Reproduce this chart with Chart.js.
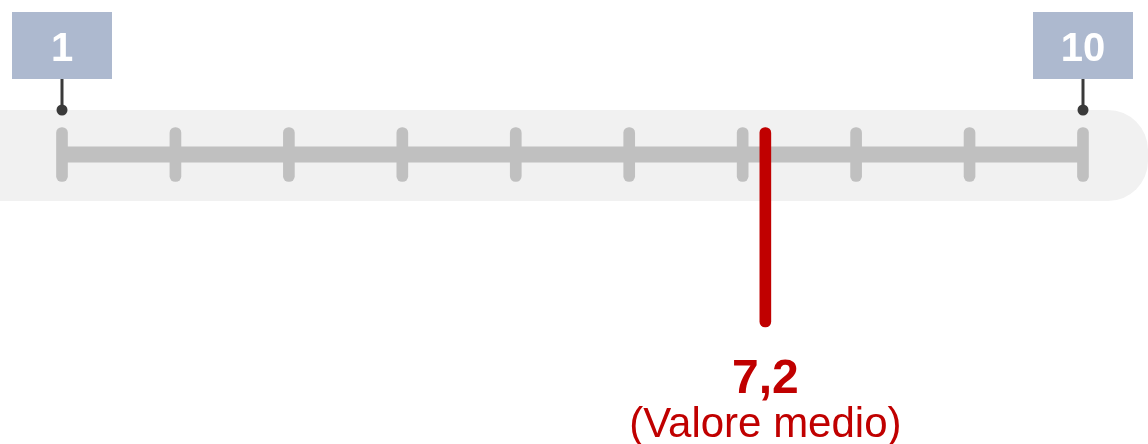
<!DOCTYPE html>
<html>
<head>
<meta charset="utf-8">
<script src="https://cdn.jsdelivr.net/npm/chart.js@4.4.1/dist/chart.umd.min.js"></script>
<style>
  html, body { margin: 0; padding: 0; background: #ffffff; }
  #wrap { width: 1148px; height: 444px; }
</style>
</head>
<body>
<div id="wrap"><canvas id="c" width="1148" height="444"></canvas></div>
<script>
// ---- data ----
const scaleTicks = [1, 2, 3, 4, 5, 6, 7, 8, 9, 10];
const scaleMin = 1;
const scaleMax = 10;
const meanValue = 7.2;
const meanLabel = "7,2";
const meanCaption = "(Valore medio)";
const endLabels = ["1", "10"];

// ---- style constants ----
const FONT = "'Liberation Sans', Arial, sans-serif";
const GREY = "#c0c0c0";
const RED = "#c00000";
const BAND = "#f1f1f1";
const BOX = "#adb9cf";

const bandPlugin = {
  id: 'band',
  beforeDatasetsDraw(chart) {
    const ctx = chart.ctx;
    const top = 110, bottom = 201, right = 1148, r = 40;
    ctx.save();
    ctx.fillStyle = BAND;
    ctx.beginPath();
    ctx.moveTo(0, top);
    ctx.lineTo(right - r, top);
    ctx.arcTo(right, top, right, top + r, r);
    ctx.lineTo(right, bottom - r);
    ctx.arcTo(right, bottom, right - r, bottom, r);
    ctx.lineTo(0, bottom);
    ctx.closePath();
    ctx.fill();
    ctx.restore();
  }
};

const labelPlugin = {
  id: 'labels',
  afterDatasetsDraw(chart) {
    const ctx = chart.ctx;
    const xs = chart.scales.x;
    ctx.save();
    // end boxes with connectors
    [scaleMin, scaleMax].forEach((v, i) => {
      const px = Math.round(xs.getPixelForValue(v));
      ctx.strokeStyle = "#3a3a3a";
      ctx.lineWidth = 3;
      ctx.beginPath();
      ctx.moveTo(px, 79);
      ctx.lineTo(px, 110);
      ctx.stroke();
      ctx.fillStyle = "#3a3a3a";
      ctx.beginPath();
      ctx.arc(px, 110, 5.5, 0, Math.PI * 2);
      ctx.fill();
      ctx.fillStyle = BOX;
      ctx.fillRect(px - 50, 12, 100, 67);
      ctx.fillStyle = "#ffffff";
      ctx.font = "bold 40px " + FONT;
      ctx.textAlign = "center";
      ctx.textBaseline = "alphabetic";
      ctx.fillText(endLabels[i], px, 61);
    });
    // mean label
    const mx = xs.getPixelForValue(meanValue);
    ctx.fillStyle = RED;
    ctx.textAlign = "center";
    ctx.font = "bold 48px " + FONT;
    ctx.fillText(meanLabel, mx, 393);
    ctx.font = "42px " + FONT;
    ctx.fillText(meanCaption, mx, 437);
    ctx.restore();
  }
};

new Chart(document.getElementById('c'), {
  type: 'bar',
  data: {
    datasets: [
      {
        type: 'line',
        data: [{ x: scaleMin, y: 0 }, { x: scaleMax, y: 0 }],
        borderColor: GREY,
        borderWidth: 16,
        borderCapStyle: 'butt',
        pointRadius: 0,
        order: 3
      },
      {
        type: 'bar',
        data: scaleTicks.map(v => ({ x: v, y: [-27, 27] })),
        backgroundColor: GREY,
        barThickness: 11,
        borderRadius: 5.5,
        borderSkipped: false,
        grouped: false,
        order: 2
      },
      {
        type: 'bar',
        data: [{ x: meanValue, y: [-172.5, 27] }],
        backgroundColor: RED,
        barThickness: 11,
        borderRadius: 5.5,
        borderSkipped: false,
        grouped: false,
        order: 1
      }
    ]
  },
  options: {
    responsive: false,
    animation: false,
    devicePixelRatio: 1,
    layout: { padding: 0 },
    plugins: { legend: { display: false }, tooltip: { enabled: false } },
    scales: {
      x: { type: 'linear', min: 0.4535, max: 10.5731, offset: false, display: false },
      y: { type: 'linear', min: -289.5, max: 154.5, display: false }
    }
  },
  plugins: [bandPlugin, labelPlugin]
});
</script>
</body>
</html>
